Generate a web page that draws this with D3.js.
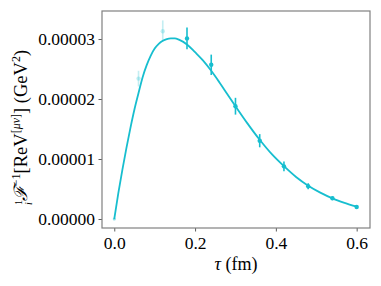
<!DOCTYPE html>
<html><head><meta charset="utf-8">
<script src="https://cdn.jsdelivr.net/npm/d3@7"></script>
<style>body{margin:0;background:#fff}svg{display:block}</style>
</head><body><svg id="c" width="381" height="286"></svg>
<script>
const tau = [0.06,0.12,0.18,0.24,0.30,0.36,0.42,0.48,0.54,0.60];
const vals = [2.34e-5,3.13e-5,3.01e-5,2.57e-5,1.88e-5,1.305e-5,0.878e-5,0.545e-5,0.345e-5,0.20e-5];
const errs = [0.13e-5,0.18e-5,0.18e-5,0.17e-5,0.14e-5,0.11e-5,0.08e-5,0.05e-5,0.03e-5,0.02e-5];
const faded = [true,true,false,false,false,false,false,false,false,false];
const curveTau = [0,0.01,0.02,0.03,0.04,0.05,0.06,0.07,0.08,0.09,0.10,0.11,0.12,0.13,0.14,0.15,0.16,0.18,0.20,0.22,0.24,0.26,0.28,0.30,0.33,0.36,0.39,0.42,0.45,0.48,0.51,0.54,0.57,0.60];
const curveVal = [0,0.43e-5,0.82e-5,1.18e-5,1.52e-5,1.83e-5,2.10e-5,2.36e-5,2.56e-5,2.72e-5,2.84e-5,2.92e-5,2.97e-5,3.0e-5,3.01e-5,3.01e-5,2.99e-5,2.91e-5,2.78e-5,2.64e-5,2.47e-5,2.28e-5,2.08e-5,1.88e-5,1.59e-5,1.32e-5,1.08e-5,0.88e-5,0.70e-5,0.555e-5,0.44e-5,0.345e-5,0.27e-5,0.205e-5];
const xTicks = [0.0,0.2,0.4,0.6];
const yTicks = [0,1e-5,2e-5,3e-5];

const FONT = "'Liberation Serif', 'DejaVu Serif', serif";
const color = "#17becf";
const L=102,R=370,T=11,B=228;
const svg = d3.select("#c");
const x = d3.scaleLinear().domain([-0.0304,0.633]).range([L,R]);
const y = d3.scaleLinear().domain([-0.15e-5,3.467e-5]).range([B,T]);

const ax = d3.axisBottom(x).tickValues(xTicks).tickFormat(d3.format(".1f")).tickSize(3.5).tickPadding(3);
const gx = svg.append("g").attr("transform",`translate(0,${B})`).call(ax);
const ay = d3.axisLeft(y).tickValues(yTicks).tickFormat(d3.format(".5f")).tickSize(3.5).tickPadding(3.5);
const gy = svg.append("g").attr("transform",`translate(${L},0)`).call(ay);
[gx,gy].forEach(g=>{g.select(".domain").remove();g.selectAll("line").attr("stroke","#333").attr("stroke-width",0.8);
 g.selectAll("text").style("font-size","17.5px").style("font-family",FONT).attr("fill","#000");});
gx.selectAll("text").attr("dy","0.85em");

svg.append("rect").attr("x",L).attr("y",T).attr("width",R-L).attr("height",B-T)
  .attr("fill","none").attr("stroke","#808080").attr("stroke-width",1.2);

const line = d3.line().x((d,i)=>x(curveTau[i])).y((d,i)=>y(curveVal[i])).curve(d3.curveMonotoneX);
svg.append("path").datum(curveVal).attr("d",line).attr("fill","none").attr("stroke",color).attr("stroke-width",1.8);
svg.append("circle").attr("cx",x(curveTau[0])).attr("cy",y(curveVal[0])).attr("r",1.5).attr("fill",color).attr("opacity",0.5);

const pts = svg.append("g");
tau.forEach((t,i)=>{
  const op = faded[i]?0.25:1;
  pts.append("line").attr("x1",x(t)).attr("x2",x(t)).attr("y1",y(vals[i]-errs[i])).attr("y2",y(vals[i]+errs[i]))
    .attr("stroke",color).attr("stroke-width",1.6).attr("opacity",op);
  pts.append("circle").attr("cx",x(t)).attr("cy",y(vals[i])).attr("r",2.2).attr("fill",color).attr("opacity",op);
});

const xl = svg.append("text").attr("x",236).attr("y",270).attr("text-anchor","middle")
  .style("font-size","18px").style("font-family",FONT);
xl.append("tspan").style("font-style","italic").text("τ");
xl.append("tspan").text(" (fm)");

const yl = svg.append("g").attr("transform","translate(27,114) rotate(-90)");
const t = yl.append("text").attr("x",-91).style("font-size","18.5px").style("font-family",FONT);
t.append("tspan").style("font-size","10px").attr("dy",-5).text("1");
t.append("tspan").style("font-size","10px").style("font-style","italic").attr("dx",-5).attr("dy",10).text("i");
t.append("tspan").attr("dy",-5).attr("dx",1).style("font-style","italic").text("ℱ");
t.append("tspan").style("font-size","12px").attr("dy",-7).text("−1");
t.append("tspan").attr("dy",7).text("[ReV");
t.append("tspan").style("font-size","12px").attr("dy",-7).text("[");
t.append("tspan").style("font-size","12px").style("font-style","italic").text("μν");
t.append("tspan").style("font-size","12px").text("]");
t.append("tspan").attr("dy",7).text("] (GeV");
t.append("tspan").style("font-size","12px").attr("dy",-7).text("2");
t.append("tspan").attr("dy",7).text(")");
</script></body></html>
